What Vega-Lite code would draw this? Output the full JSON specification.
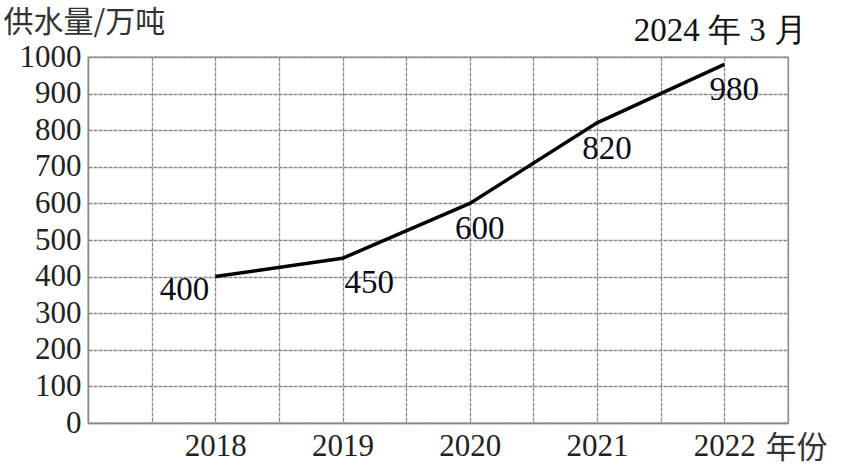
{
  "$schema": "https://vega.github.io/schema/vega-lite/v6.json",
  "autosize": "none",
  "width": 700,
  "height": 366,
  "padding": {"left": 88, "top": 57, "right": 56, "bottom": 45},
  "background": "white",
  "title": {
    "text": "2024 年 3 月",
    "anchor": "end",
    "frame": "group",
    "orient": "top",
    "font": "Times New Roman, serif",
    "fontSize": 33,
    "fontWeight": "normal",
    "color": "#111111",
    "baseline": "alphabetic",
    "offset": 14,
    "dx": 19,
    "dy": 81
  },
  "config": {
    "view": {"stroke": "#8a8a8a", "strokeWidth": 1.3},
    "axis": {
      "gridColor": "#8a8a8a",
      "gridWidth": 1.3,
      "gridDash": [4, 1],
      "gridOpacity": 1,
      "domainColor": "#8a8a8a",
      "domainWidth": 1.3,
      "ticks": false,
      "labelFont": "Times New Roman, serif",
      "labelFontSize": 31,
      "labelColor": "#222222",
      "titleFont": "Noto Sans CJK SC",
      "titleFontWeight": "normal",
      "titleColor": "#333333"
    }
  },
  "data": {
    "values": [
      {"year": 2018, "supply": 400},
      {"year": 2019, "supply": 450},
      {"year": 2020, "supply": 600},
      {"year": 2021, "supply": 820},
      {"year": 2022, "supply": 980}
    ]
  },
  "encoding": {
    "x": {
      "field": "year",
      "type": "quantitative",
      "scale": {"domain": [2017, 2022.5], "nice": false, "zero": false},
      "axis": {
        "values": [2017, 2017.5, 2018, 2018.5, 2019, 2019.5, 2020, 2020.5, 2021, 2021.5, 2022, 2022.5],
        "labelExpr": "datum.value % 1 == 0 && datum.value >= 2018 ? '' + datum.value : ''",
        "labelPadding": 8,
        "labelBaseline": "top",
        "labelFlush": false,
        "labelOverlap": false,
        "title": "年份",
        "titleFontSize": 31,
        "titleAlign": "left",
        "titleBaseline": "top",
        "titleX": 677,
        "titleY": 10
      }
    },
    "y": {
      "field": "supply",
      "type": "quantitative",
      "scale": {"domain": [0, 1000], "nice": false},
      "axis": {
        "values": [0, 100, 200, 300, 400, 500, 600, 700, 800, 900, 1000],
        "format": "d",
        "labelPadding": 7,
        "labelFlush": false,
        "labelOverlap": false,
        "title": "供水量/万吨",
        "titleFontSize": 30,
        "titleAngle": 0,
        "titleAlign": "left",
        "titleBaseline": "top",
        "titleX": -85,
        "titleY": -50
      }
    }
  },
  "layer": [
    {
      "mark": {"type": "line", "color": "#000000", "strokeWidth": 3.5}
    },
    {
      "transform": [{"filter": "datum.year == 2018"}],
      "mark": {"type": "text", "font": "Times New Roman, serif", "fontSize": 33, "color": "#0a0a1a", "align": "right", "baseline": "alphabetic", "dx": -6, "dy": 23},
      "encoding": {"text": {"field": "supply", "type": "quantitative", "format": "d"}}
    },
    {
      "transform": [{"filter": "datum.year == 2019"}],
      "mark": {"type": "text", "font": "Times New Roman, serif", "fontSize": 33, "color": "#0a0a1a", "align": "left", "baseline": "alphabetic", "dx": 2, "dy": 35},
      "encoding": {"text": {"field": "supply", "type": "quantitative", "format": "d"}}
    },
    {
      "transform": [{"filter": "datum.year >= 2020"}],
      "mark": {"type": "text", "font": "Times New Roman, serif", "fontSize": 33, "color": "#0a0a1a", "align": "center", "baseline": "alphabetic", "dx": 10, "dy": 36},
      "encoding": {"text": {"field": "supply", "type": "quantitative", "format": "d"}}
    }
  ]
}
